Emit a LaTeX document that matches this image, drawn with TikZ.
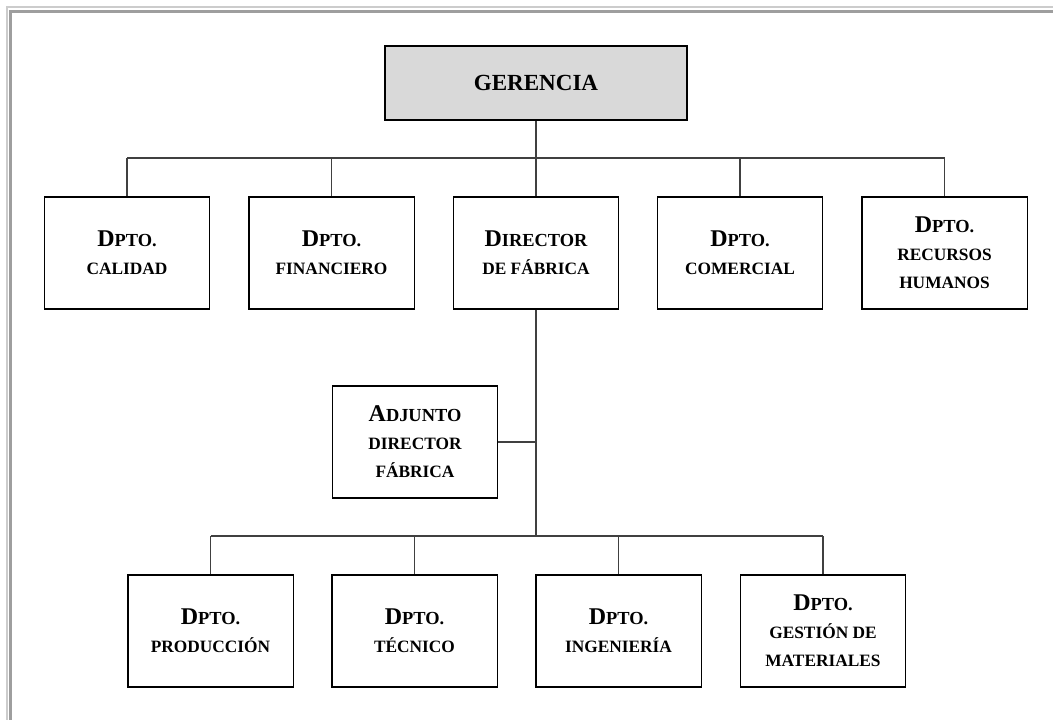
\documentclass[tikz,border=0pt]{standalone}
\usepackage{fontspec}
\setmainfont{Liberation Serif}
\newcommand\BigL[1]{{\fontsize{18}{21}\selectfont #1}}
\newcommand\SmL[1]{{\fontsize{13.8}{21}\selectfont #1}}
\definecolor{gerfill}{HTML}{D9D9D9}
\definecolor{linegray}{HTML}{404040}
\definecolor{framelight}{HTML}{CCCCCC}
\definecolor{framedark}{HTML}{9E9E9E}
\begin{document}
\begin{tikzpicture}[x=0.75pt,y=-0.75pt,
  orgbox/.style={draw=black,line width=1pt,fill=white,minimum width=124pt,minimum height=84pt,
    inner sep=0pt,align=center,font=\bfseries\fontsize{13}{21}\selectfont},
  topbox/.style={draw=black,line width=1pt,fill=gerfill,minimum width=226.5pt,minimum height=55.5pt,
    inner sep=0pt,align=center,font=\bfseries\fontsize{17.3}{21}\selectfont},
  conn/.style={draw=linegray,line width=1.1pt}]
\useasboundingbox (0,0) rectangle (1053,720);
% frame (top and left only)
\draw[framelight,line width=1.5pt] (7,720) -- (7,7) -- (1053,7);
\draw[framedark,line width=2.2pt] (10.5,720) -- (10.5,11.5) -- (1053,11.5);
% nodes
\node[topbox] (ger) at (536,83) {GERENCIA};
\node[orgbox] (c1) at (127,253) {\BigL{D}\SmL{PTO.}\\CALIDAD};
\node[orgbox] (c2) at (331.5,253) {\BigL{D}\SmL{PTO.}\\FINANCIERO};
\node[orgbox] (c3) at (536,253) {\BigL{D}\SmL{IRECTOR}\\DE FÁBRICA};
\node[orgbox] (c4) at (740,253) {\BigL{D}\SmL{PTO.}\\COMERCIAL};
\node[orgbox] (c5) at (944.5,253) {\BigL{D}\SmL{PTO.}\\RECURSOS\\HUMANOS};
\node[orgbox] (adj) at (415,442) {\BigL{A}\SmL{DJUNTO}\\DIRECTOR\\FÁBRICA};
\node[orgbox] (b1) at (210.5,631) {\BigL{D}\SmL{PTO.}\\PRODUCCIÓN};
\node[orgbox] (b2) at (414.5,631) {\BigL{D}\SmL{PTO.}\\TÉCNICO};
\node[orgbox] (b3) at (618.5,631) {\BigL{D}\SmL{PTO.}\\INGENIERÍA};
\node[orgbox] (b4) at (823,631) {\BigL{D}\SmL{PTO.}\\GESTIÓN DE\\MATERIALES};
% hubs
\coordinate (hub) at (536,158);
\coordinate (hub2) at (536,536);
% connectors
\draw[conn] (ger.south) -- (hub);
\draw[conn] (c1.north |- hub) -- (c5.north |- hub);
\foreach \n in {c1,c2,c3,c4,c5} \draw[conn] (\n.north |- hub) -- (\n.north);
\draw[conn] (c3.south) -- (hub2);
\draw[conn] (adj.east) -- (adj.east -| c3.south);
\draw[conn] (b1.north |- hub2) -- (b4.north |- hub2);
\foreach \n in {b1,b2,b3,b4} \draw[conn] (\n.north |- hub2) -- (\n.north);
\end{tikzpicture}
\end{document}
